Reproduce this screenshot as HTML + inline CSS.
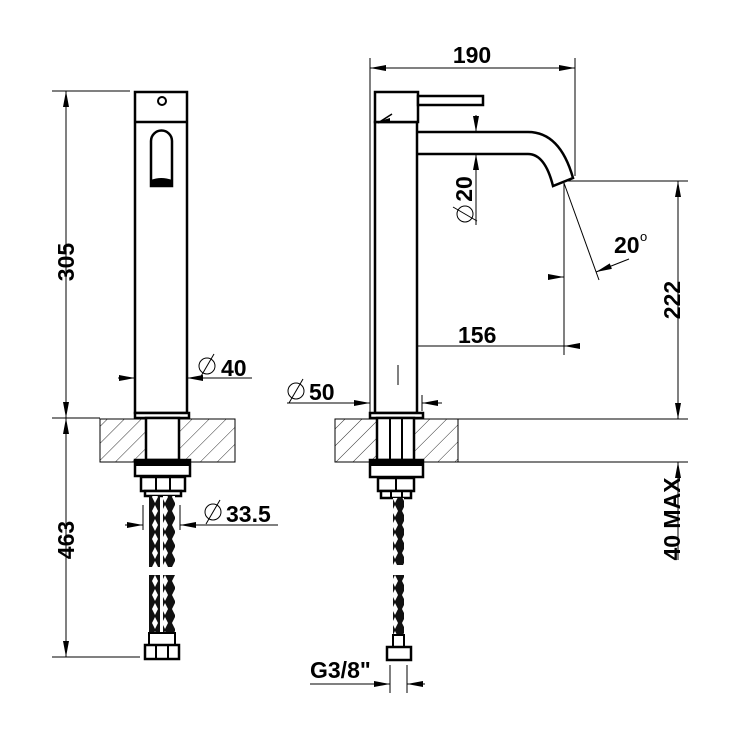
<!DOCTYPE html>
<html><head><meta charset="utf-8"><style>html,body{margin:0;padding:0;background:#fff}svg{display:block}</style></head>
<body>
<svg width="750" height="750" viewBox="0 0 750 750" xmlns="http://www.w3.org/2000/svg" font-family="Liberation Sans, sans-serif" font-weight="bold">
<defs>
<pattern id="h" width="12" height="12" patternUnits="userSpaceOnUse" patternTransform="rotate(45)">
<line x1="0" y1="0" x2="0" y2="12" stroke="#000" stroke-width="0.8"/></pattern>
<pattern id="hose" width="10" height="14" patternUnits="userSpaceOnUse">
<rect width="10" height="14" fill="#111"/>
<path d="M5 1 L8 7 L5 13 L2 7Z" fill="#fff"/></pattern>
<marker id="a" markerWidth="16" markerHeight="8" refX="16" refY="4" orient="auto" markerUnits="userSpaceOnUse"><path d="M0 1 L16 4 L0 7Z" fill="#000"/></marker>
</defs>
<g stroke="#000" stroke-width="1" fill="none">
<line x1="52" y1="91" x2="130" y2="91"/>
<line x1="52" y1="418" x2="100" y2="418"/>
<line x1="52" y1="657" x2="140" y2="657"/>
<line x1="66" y1="418" x2="66" y2="91" marker-end="url(#a)"/>
<line x1="66" y1="91" x2="66" y2="418" marker-end="url(#a)"/>
<line x1="66" y1="418" x2="66" y2="657" marker-end="url(#a)"/>
<line x1="66" y1="657" x2="66" y2="418" marker-end="url(#a)"/>
<rect x="100" y="419" width="135" height="43" fill="url(#h)"/>
<rect x="335" y="419" width="123" height="43" fill="url(#h)"/>
<line x1="458" y1="419" x2="688" y2="419"/>
<line x1="458" y1="462" x2="688" y2="462"/>
</g>
<g stroke="#000" stroke-width="2.5" fill="#fff">
<rect x="135" y="92" width="52" height="321"/>
<line x1="135" y1="122" x2="187" y2="122"/>
<circle cx="162" cy="101" r="4" stroke-width="2"/>
<path d="M151 186 V141 a10.5 10.5 0 0 1 21 0 V186Z"/>
<rect x="135" y="413" width="54" height="5"/>
<rect x="146" y="418" width="33" height="42"/>
<rect x="135" y="460" width="55" height="16"/>
<rect x="141" y="477" width="44" height="14"/>
<rect x="145" y="491" width="36" height="5"/>
<rect x="145" y="645" width="34" height="14"/>
</g>
<path d="M151 180 Q161 176 172 180 V186 H151Z" fill="#000"/>
<rect x="135" y="460" width="55" height="6" fill="#000"/>
<g stroke="#000" stroke-width="2">
<line x1="156" y1="477" x2="156" y2="491"/><line x1="170" y1="477" x2="170" y2="491"/>
<line x1="156" y1="645" x2="156" y2="659"/><line x1="168" y1="645" x2="168" y2="659"/>
</g>
<g>
<rect x="149" y="496" width="11" height="71" fill="url(#hose)"/>
<rect x="163" y="496" width="12" height="71" fill="url(#hose)"/>
<rect x="149" y="575" width="11" height="58" fill="url(#hose)"/>
<rect x="163" y="575" width="12" height="58" fill="url(#hose)"/>
<rect x="149" y="633" width="26" height="12" fill="none" stroke="#000" stroke-width="2"/>
</g>
<g stroke="#000" stroke-width="1" fill="none">
<line x1="118" y1="378" x2="135" y2="378" marker-end="url(#a)"/>
<line x1="252" y1="378" x2="187" y2="378" marker-end="url(#a)"/>
<circle cx="207" cy="366" r="8"/><line x1="200" y1="378" x2="214" y2="354"/>
<line x1="143" y1="505" x2="143" y2="530"/><line x1="180" y1="505" x2="180" y2="530"/>
<line x1="125" y1="525" x2="143" y2="525" marker-end="url(#a)"/>
<line x1="278" y1="525" x2="180" y2="525" marker-end="url(#a)"/>
<circle cx="213" cy="512" r="8"/><line x1="206" y1="524" x2="220" y2="500"/>
</g>
<g font-size="23" fill="#000">
<text x="221" y="376">40</text>
<text x="226" y="522">33.5</text>
<text transform="translate(74,262) rotate(-90)" text-anchor="middle">305</text>
<text transform="translate(74,540) rotate(-90)" text-anchor="middle">463</text>
</g>
<g stroke="#000" stroke-width="1" fill="none">
<line x1="370" y1="58" x2="370" y2="413"/>
<line x1="575" y1="58" x2="575" y2="176"/>
<line x1="388" y1="68" x2="370" y2="68" marker-end="url(#a)"/>
<line x1="388" y1="68" x2="575" y2="68" marker-end="url(#a)"/>
<line x1="565" y1="181" x2="688" y2="181"/>
<line x1="678" y1="300" x2="678" y2="181" marker-end="url(#a)"/>
<line x1="678" y1="300" x2="678" y2="419" marker-end="url(#a)"/>
<line x1="678" y1="560" x2="678" y2="462" marker-end="url(#a)"/>
<line x1="564" y1="183" x2="564" y2="355"/>
<line x1="564" y1="183" x2="599" y2="280"/>
<line x1="548" y1="277" x2="564" y2="277" marker-end="url(#a)"/>
<line x1="629" y1="259" x2="596" y2="272" marker-end="url(#a)"/>
<line x1="396" y1="338" x2="396" y2="386"/>
<line x1="580" y1="346" x2="564" y2="346" marker-end="url(#a)"/>
<line x1="564" y1="346" x2="396" y2="346" marker-end="url(#a)"/>
<line x1="476" y1="115" x2="476" y2="132" marker-end="url(#a)"/>
<line x1="476" y1="225" x2="476" y2="154" marker-end="url(#a)"/>
<circle cx="465" cy="214" r="8"/><line x1="453" y1="207" x2="477" y2="221"/>
<line x1="422" y1="395" x2="422" y2="411"/>
<line x1="287" y1="403" x2="370" y2="403" marker-end="url(#a)"/>
<line x1="442" y1="403" x2="422" y2="403" marker-end="url(#a)"/>
<circle cx="296" cy="391" r="8"/><line x1="289" y1="403" x2="303" y2="379"/>
<line x1="390" y1="665" x2="390" y2="693"/><line x1="407" y1="665" x2="407" y2="693"/>
<line x1="310" y1="684" x2="390" y2="684" marker-end="url(#a)"/>
<line x1="425" y1="684" x2="407" y2="684" marker-end="url(#a)"/>
</g>
<g stroke="#000" stroke-width="2.5" fill="#fff">
<path d="M417 132 H528 Q560 132 573 178 L553 186 Q545 154 528 154 H417"/>
<rect x="375" y="122" width="42" height="291"/>
<rect x="375" y="92" width="43" height="30"/>
<rect x="418" y="96" width="65" height="9"/>
<rect x="370" y="413" width="53" height="5"/>
<rect x="377" y="418" width="37" height="42"/>
<rect x="370" y="460" width="53" height="17"/>
<rect x="378" y="478" width="36" height="13"/>
<rect x="381" y="491" width="30" height="7"/>
<rect x="387" y="647" width="24" height="13"/>
</g>
<path d="M377 122 L390 118 L390 122Z" fill="#000"/>
<line x1="378" y1="123" x2="392" y2="114" stroke="#000" stroke-width="1.5"/>
<rect x="370" y="460" width="53" height="6" fill="#000"/>
<g stroke="#000" stroke-width="2">
<line x1="390" y1="418" x2="390" y2="460"/><line x1="402" y1="418" x2="402" y2="460"/>
<line x1="396" y1="478" x2="396" y2="491"/>
<line x1="391" y1="491" x2="391" y2="498"/><line x1="402" y1="491" x2="402" y2="498"/>
</g>
<rect x="393" y="498" width="11" height="67" fill="url(#hose)"/>
<rect x="393" y="575" width="11" height="60" fill="url(#hose)"/>
<rect x="393" y="635" width="11" height="12" fill="none" stroke="#000" stroke-width="2"/>
<line x1="398" y1="365" x2="398" y2="385" stroke="#000" stroke-width="1"/>
<g font-size="23" fill="#000">
<text x="472" y="63" text-anchor="middle">190</text>
<text x="458" y="343">156</text>
<text x="309" y="400">50</text>
<text x="614" y="253">20</text>
<text x="640" y="241" font-size="13" font-weight="normal">o</text>
<text x="310" y="678">G3/8"</text>
<text transform="translate(472,189) rotate(-90)" text-anchor="middle">20</text>
<text transform="translate(680,300) rotate(-90)" text-anchor="middle">222</text>
<text transform="translate(680,519) rotate(-90)" text-anchor="middle">40 MAX</text>
</g>
</svg>
</body></html>
